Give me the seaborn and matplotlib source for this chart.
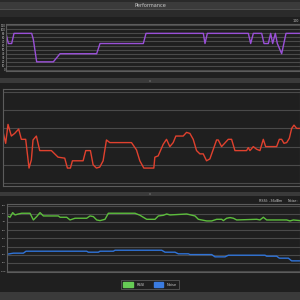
import matplotlib
matplotlib.use("Agg")
import matplotlib.pyplot as plt
import seaborn as sns
import pandas as pd
from matplotlib.patches import Rectangle, Patch

# ---------------- data ----------------
cpu_t = [18, 25, 35, 42, 95, 100, 110, 160, 180, 290, 300, 430, 438, 610, 615, 622,
         745, 752, 760, 785, 792, 805, 812, 818, 826, 832, 845, 858, 900]
cpu_v = [9, 6.5, 6.5, 9, 9, 7.5, 2, 2, 4, 4, 6.5, 6.5, 9, 9, 6.5, 9,
         9, 6.5, 9, 9, 6.5, 6.5, 9, 6.5, 9, 6.5, 4, 9, 9]

mem_t = [10, 18, 25, 35, 45, 57, 65, 78, 88, 95, 100, 110, 120, 155, 175, 195, 203, 212, 218, 250,
         258, 272, 280, 290, 300, 310, 320, 330, 395, 410, 420, 432, 462, 465, 475, 490, 500, 510, 520, 528,
         550, 560, 570, 580, 590, 600, 610, 620, 630, 650, 655, 665, 685, 695, 705, 740, 745, 750, 760, 770,
         780, 790, 797, 830, 838, 845, 852, 860, 868, 875, 882, 890, 900]
mem_v = [56.4, 43.6, 64.4, 51.6, 54.5, 59.3, 48, 48, 16.4, 25.5, 47.3, 51.6, 35.6, 35.6, 28.4, 27.3, 16.4, 16.4, 24.4, 24.4,
         35.6, 35.6, 20, 16.4, 17.5, 24.4, 47.3, 44.4, 44.4, 36.4, 24.4, 16.4, 16.4, 28.4, 29.8, 42.5, 48, 40, 44.4, 51.6,
         51.6, 55.6, 54.5, 48, 35.6, 32, 32, 24.4, 26.5, 47.3, 47.3, 40, 48, 48, 35.6, 35.6, 38.9, 35.6, 40, 37.1,
         35.6, 48, 40, 40, 48, 48, 43.6, 44.4, 49.1, 60, 63.6, 60, 60]

rssi_t = [22, 30, 38, 45, 55, 65, 90, 100, 110, 120, 130, 175, 180, 200, 210, 225, 260, 270, 280, 290,
          300, 315, 325, 405, 420, 440, 465, 475, 490, 500, 510, 560, 585, 595, 620, 635, 650, 665, 670, 680,
          690, 700, 710, 770, 780, 790, 800, 860, 870, 880, 900]
rssi_v = [-32.6, -34.2, -28.5, -31.4, -30.2, -29.3, -29.3, -37.5, -33.4, -28.5, -32.6, -32.6, -34.2, -34.2, -37.5, -35.4, -35.4, -32.6, -33.4, -37.5,
          -38.3, -36.7, -29.3, -29.3, -31.8, -36.7, -36.7, -32.6, -31.8, -30.2, -31.4, -30.2, -32.6, -36.7, -38.7, -38.7, -36.7, -36.7, -38.3, -35.4,
          -34.6, -35.4, -37.5, -36.7, -37.5, -34.2, -37.5, -37.5, -38.7, -37.5, -38.3]

noise_t = [22, 40, 70, 78, 260, 265, 295, 300, 340, 345, 485, 495, 525, 535, 565, 570, 635, 645,
           675, 685, 795, 800, 830, 838, 865, 875, 900]
noise_v = [-79.3, -78.1, -78.1, -75.7, -75.7, -76.9, -76.9, -75.7, -75.7, -74.5, -74.5, -76.9, -76.9, -78.9, -78.9, -79.8, -79.8, -82.6,
           -82.6, -80.6, -80.6, -81.8, -81.8, -84.2, -84.2, -87.5, -87.5]

cpu_ticks = list(range(0, 12))
cpu_ticklabels = [str(v * 10) for v in cpu_ticks]
mem_ticks = [0, 20, 40, 60, 80, 100]
sig_ticks = [-20, -30, -40, -50, -60, -70, -80, -90, -100]
sig_ticklabels = [str(v) for v in sig_ticks]
series_names = ["RSSI", "Noise"]
title = "Performance"

# ---------------- style ----------------
sns.set_style("dark")
plt.rcParams['font.family'] = ['DejaVu Sans']

BG = '#1f1f1f'
BAR = '#3a3a3a'
GRID = '#4a4a4a'
FRAME = '#5c5c5c'
TXT = '#c8c8c8'

fig = plt.figure(figsize=(3, 3), dpi=100, facecolor=BG)


def frect(x0, y0, x1, y1, color, z=0):
    fig.patches.append(Rectangle((x0 / 300, 1 - y1 / 300), (x1 - x0) / 300, (y1 - y0) / 300,
                                 transform=fig.transFigure, color=color, zorder=z, lw=0))


def fax(x0, y0, x1, y1):
    return fig.add_axes([x0 / 300, 1 - y1 / 300, (x1 - x0) / 300, (y1 - y0) / 300])


# chrome
frect(0, 0, 300, 2.5, '#2a2a2a')
frect(0, 2.5, 300, 9, '#3b3b3b')
frect(0, 9, 300, 9.7, '#4d4d4d')
frect(0, 9.7, 300, 16.5, '#2b2b2b')
frect(0, 16.5, 300, 17.2, '#444444')
frect(0, 78, 300, 83, BAR)
frect(0, 192, 300, 196, BAR)
frect(0, 292, 300, 300, BAR)
for yy in (80.5, 194):
    fig.patches.append(Rectangle((149 / 300, 1 - (yy + 1) / 300), 2 / 300, 2 / 300,
                                 transform=fig.transFigure, color='#555555', lw=0))
fig.text(0.5, 1 - 5.8 / 300, title, ha='center', va='center', fontsize=3.6, color=TXT)


def style_axes(ax, labelsize=2.0):
    ax.set_facecolor(BG)
    for s in ax.spines.values():
        s.set_visible(True)
        s.set_color(FRAME)
        s.set_linewidth(0.8)
    ax.grid(True, axis='y', color=GRID, lw=0.8)
    ax.grid(False, axis='x')
    ax.set_xlabel('')
    ax.set_ylabel('')
    ax.set_xticks([])
    ax.tick_params(axis='y', colors=TXT, labelsize=labelsize, length=0, width=0.4, pad=0.6)


# panel 1 (purple)
ax1 = fax(6, 24, 300, 71)
sns.lineplot(x=cpu_t, y=cpu_v, ax=ax1, color='#9a50d8', lw=1.0)
ax1.set_xlim(18, 900)
ax1.set_ylim(-0.25, 11.3)
ax1.set_yticks(cpu_ticks)
ax1.set_yticklabels(cpu_ticklabels)
style_axes(ax1, 1.9)
fig.text(296 / 300, 1 - 21 / 300, '100', ha='center', va='center', fontsize=2.4, color=TXT)

# panel 2 (red)
ax2 = fax(3, 89, 300, 186)
sns.lineplot(x=mem_t, y=mem_v, ax=ax2, color='#e0412e', lw=1.0)
ax2.set_xlim(10, 900)
ax2.set_ylim(-3.3, 103.3)
ax2.set_yticks(mem_ticks)
ax2.set_yticks(list(range(0, 101, 4)), minor=True)
style_axes(ax2)
ax2.set_yticklabels([])
ax2.tick_params(axis='y', which='minor', colors='#666666', length=1.2, width=0.4)

# panel 3 (green / blue)
ax3 = fax(6.7, 204, 300, 271.5)
df = pd.DataFrame({
    't': rssi_t + noise_t,
    'v': rssi_v + noise_v,
    's': [series_names[0]] * len(rssi_t) + [series_names[1]] * len(noise_t),
})
sns.lineplot(data=df, x='t', y='v', hue='s', ax=ax3,
             palette={series_names[0]: '#5cbd3c', series_names[1]: '#2f73d8'},
             lw=1.0, legend=False)
ax3.set_xlim(20, 900)
ax3.set_ylim(-100.5, -18)
ax3.set_yticks(sig_ticks)
ax3.set_yticklabels(sig_ticklabels)
style_axes(ax3, 1.7)
fig.text(271 / 300, 1 - 201 / 300, 'RSSI: -36dBm', ha='center', va='center', fontsize=2.4, color=TXT)
fig.text(288 / 300, 1 - 201 / 300, 'Noise:', ha='left', va='center', fontsize=2.4, color=TXT)

handles = [Patch(facecolor='#66cc55', edgecolor='#66cc55', label=series_names[0]),
           Patch(facecolor='#3a7be0', edgecolor='#3a7be0', label=series_names[1])]
leg = fig.legend(handles=handles, loc='center', bbox_to_anchor=(0.5, 1 - 284.5 / 300), ncol=2,
                 fontsize=2.6, frameon=True, facecolor=BG, edgecolor='#666666', labelcolor=TXT,
                 handlelength=2.6, handleheight=1.6, columnspacing=2.5, borderpad=0.6, handletextpad=1.0)
leg.get_frame().set_linewidth(0.6)
leg.get_frame().set_boxstyle('square', pad=0.0)

fig.savefig('out.png', dpi=100, facecolor=BG)
